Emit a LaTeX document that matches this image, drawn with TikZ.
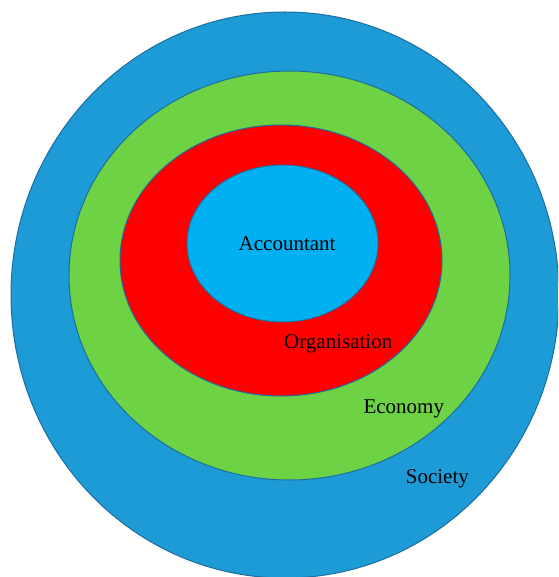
\documentclass[tikz,border=0pt]{standalone}
\usepackage{fontspec}
\setmainfont{Liberation Serif}
\usetikzlibrary{shapes.geometric}
\definecolor{societyblue}{RGB}{29,155,215}
\definecolor{econgreen}{RGB}{109,210,68}
\definecolor{orgred}{RGB}{255,0,0}
\definecolor{accblue}{RGB}{0,176,240}
\definecolor{rimblue}{RGB}{28,110,158}
\begin{document}
\begin{tikzpicture}[x=1pt,y=-1pt,
  ring/.style={ellipse, draw=rimblue, line width=1pt, inner sep=0pt, outer sep=0pt},
  lbl/.style={anchor=base west, inner sep=0pt, font=\fontsize{21}{24}\selectfont, text=black}]
\useasboundingbox (0,0) rectangle (558,577);
\clip (0,0) rectangle (558,577);
\node[ring, fill=societyblue, minimum width=548pt, minimum height=566pt] (society) at (285,295) {};
\node[ring, fill=econgreen, minimum width=441pt, minimum height=409pt] (economy) at (289.5,275.5) {};
\node[ring, fill=orgred, minimum width=322pt, minimum height=271pt] (organisation) at (281,260.5) {};
\node[ring, fill=accblue, minimum width=191pt, minimum height=157pt] (accountant) at (282.5,243.5) {};
\node[lbl] (tacc) at (238.5,250) {Accountant};
\node[lbl] (torg) at (284,348.3) {Organisation};
\node[lbl] (teco) at (363.3,413.3) {Economy};
\node[lbl] (tsoc) at (405.7,483.3) {Society};
\end{tikzpicture}
\end{document}
